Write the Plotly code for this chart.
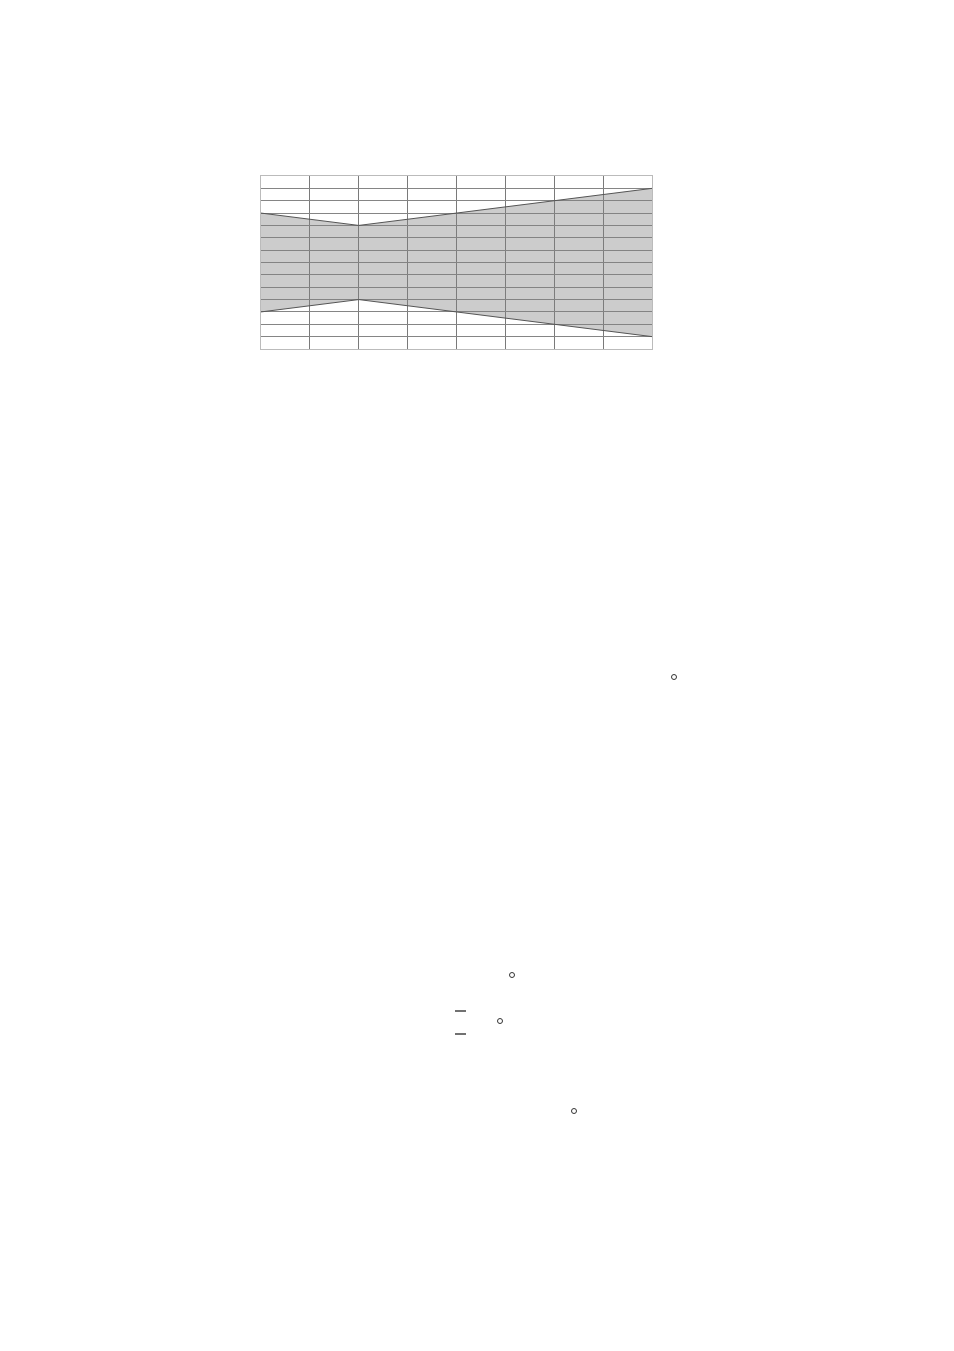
import plotly.graph_objects as go

# band edges, in grid units (x = column index, y = row index from bottom)
steps = [0, 1, 2, 3, 4, 5, 6, 7, 8]
upper = [11, 10.5, 10, 10.5, 11, 11.5, 12, 12.5, 13]
lower = [3, 3.5, 4, 3.5, 3, 2.5, 2, 1.5, 1]

# stray page marks (page pixels): little rings and two short dashes
rings = [(674, 677), (512, 975), (500, 1021), (574, 1111)]
dashes = [(455, 466, 1011), (455, 466, 1034)]

W, H = 954, 1351
OFF = 8  # the page body margin
L, R, T, B = 261, 652, 176, 349
FW, FH = W - 2 * OFF, H - 2 * OFF


def px(x):
    return (x - L) / (R - L)


def py(y):
    return (B - y) / (B - T)


fig = go.Figure()

fig.add_trace(go.Scatter(
    x=steps, y=lower, mode="lines",
    line=dict(color="#555555", width=1),
    hoverinfo="skip", showlegend=False,
))
fig.add_trace(go.Scatter(
    x=steps, y=upper, mode="lines",
    line=dict(color="#555555", width=1),
    fill="tonexty", fillcolor="rgba(128,128,128,0.4)",
    hoverinfo="skip", showlegend=False,
))

shapes = []
for cx, cy in rings:
    shapes.append(dict(
        type="circle", xref="paper", yref="paper",
        x0=px(cx - 2.5), x1=px(cx + 2.5), y0=py(cy + 2.5), y1=py(cy - 2.5),
        line=dict(color="#333333", width=1),
    ))
for x0, x1, y in dashes:
    shapes.append(dict(
        type="line", xref="paper", yref="paper",
        x0=px(x0), x1=px(x1), y0=py(y), y1=py(y),
        line=dict(color="#111111", width=1.2),
    ))

fig.update_layout(
    width=FW, height=FH,
    margin=dict(l=L - OFF, r=FW - (R - OFF), t=T - OFF, b=FH - (B - OFF)),
    paper_bgcolor="white", plot_bgcolor="white",
    shapes=shapes,
    xaxis=dict(
        range=[0, 8], dtick=1, showticklabels=False, ticks="",
        showgrid=True, gridcolor="#7a7a7a", gridwidth=1, zeroline=False,
        showline=True, linecolor="#bbbbbb", linewidth=1, mirror=True,
        fixedrange=True, layer="above traces",
    ),
    yaxis=dict(
        range=[0, 14], dtick=1, showticklabels=False, ticks="",
        showgrid=True, gridcolor="#858585", gridwidth=1, zeroline=False,
        showline=True, linecolor="#bbbbbb", linewidth=1, mirror=True,
        fixedrange=True, layer="above traces",
    ),
)

fig.write_html("out.html")
